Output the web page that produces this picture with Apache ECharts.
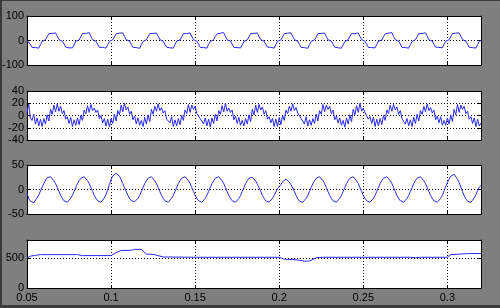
<!DOCTYPE html>
<html><head><meta charset="utf-8">
<script src="https://cdn.jsdelivr.net/npm/echarts@6/dist/echarts.min.js"></script>
<style>
html,body{margin:0;padding:0;background:#7f7f7f;}
#c{position:absolute;left:0;top:0;width:500px;height:308px;}
.b{position:absolute;background:#3a3a3a;pointer-events:none;}
</style></head><body>
<div id="c"></div>
<div class="b" style="left:0;top:0;width:2px;height:308px"></div>
<div class="b" style="left:0;top:0;width:500px;height:1px"></div>
<div class="b" style="left:0;top:305px;width:500px;height:3px"></div>
<script>
// time base for panels 1-3: samples every 1 ms starting at 0.05 s
const T0 = 0.05, DT = 0.001;
const xMin = 0.05, xMax = 0.32, xStep = 0.05;

// panel 1 : stepped voltage
const s1 = [
0,-1,-15,-28,-34,-29,-35,-31,-17,-4,
0,3,15,28,34,29,35,31,17,4,
0,-3,-14,-27,-35,-30,-36,-30,-18,-3,
0,2,16,28,35,29,34,32,16,4,
0,-3,-15,-28,-34,-28,-35,-31,-17,-4,
0,3,14,27,34,30,36,31,17,3,
0,-2,-16,-28,-35,-29,-35,-32,-16,-4,
0,3,15,28,35,29,35,30,18,4,
0,-3,-15,-27,-34,-30,-36,-31,-17,-3,
0,2,15,28,34,28,35,31,17,4,
0,-3,-14,-28,-35,-29,-35,-31,-16,-4,
0,3,16,27,35,30,36,32,17,3,
0,-2,-15,-28,-34,-29,-35,-30,-18,-4,
0,3,15,28,34,29,35,31,16,4,
0,-3,-16,-27,-35,-28,-36,-31,-17,-3,
0,2,15,28,35,30,34,31,17,4,
0,-3,-15,-28,-34,-29,-35,-32,-17,-4,
0,3,14,28,34,29,36,30,16,3,
0,-2,-15,-27,-35,-30,-35,-31,-18,-4,
0,3,16,28,35,28,35,31,17,4,
0,-3,-15,-28,-34,-29,-36,-30,-17,-3,
0,2,15,27,34,30,35,32,16,4,
0,-3,-14,-28,-35,-29,-35,-31,-17,-4,
0,3,15,28,35,29,36,31,18,3,
0,-2,-16,-27,-34,-28,-35,-30,-16,-4,
0,3,15,28,34,30,35,31,17,4,
0,-3,-15,-28,-35,-29,-36,-31,-17,-3,
0
];

// panel 2 : noisy current
const s2 = [
4,19,-4,-8,2,-14,-4,-17,-6,-18,-5,-14,1,-9,10,2,17,6,19,7,
15,3,8,-6,-2,-13,-3,-18,-7,-16,-4,-15,0,-8,9,3,16,5,18,8,
12,5,9,-5,0,-12,-5,-17,-6,-19,-5,-13,2,-9,8,1,17,6,20,9,
14,2,7,-7,-1,-14,-4,-16,-8,-18,-3,-14,1,-10,10,2,15,7,19,8,
13,4,8,-6,-3,-12,-2,-18,-7,-17,-5,-15,0,-8,9,3,18,5,17,10,
15,3,6,-5,-2,-14,-4,-17,-6,-19,-4,-13,2,-9,8,2,16,6,20,7,
12,5,9,-7,-1,-13,-3,-16,-8,-17,-5,-14,1,-10,10,1,17,5,18,9,
14,2,8,-6,-2,-12,-5,-18,-6,-18,-3,-15,0,-8,9,3,15,7,19,8,
13,4,7,-5,-3,-14,-2,-17,-7,-16,-5,-13,2,-9,8,2,18,6,17,10,
15,3,9,-7,-1,-12,-4,-16,-8,-19,-4,-14,1,-10,10,1,16,5,20,7,
12,5,6,-6,-2,-13,-3,-18,-6,-17,-5,-15,0,-8,9,3,17,7,18,9,
14,2,8,-5,-3,-14,-5,-17,-7,-18,-3,-13,2,-9,8,2,15,6,19,8,
13,4,9,-7,-1,-12,-2,-16,-8,-16,-4,-14,1,-10,10,1,18,5,17,10,
15,3,7,-6,-2,-13,-4,-18,-6,-17,-12
];

// panel 3 : sinusoidal current
const s3 = [
-8,-18,-24,-27,-27,-23,-17,-11,-3,5,12,19,24,26,26,23,18,12,4,-4,
-12,-18,-23,-26,-26,-23,-18,-12,-4,4,12,18,23,26,26,23,18,12,4,-4,
-12,-18,-23,-26,-26,-23,-17,-10,0,10,20,28,32,33,31,27,20,12,4,-4,
-12,-18,-23,-25,-25,-23,-18,-12,-4,4,12,18,23,26,26,23,18,12,4,-4,
-12,-18,-23,-26,-26,-23,-18,-12,-4,4,12,18,23,26,26,23,18,12,4,-4,
-12,-18,-23,-26,-26,-23,-18,-12,-4,4,12,18,23,26,26,23,18,12,4,-4,
-12,-18,-23,-26,-26,-23,-18,-12,-4,4,12,18,23,25,25,22,17,11,4,-4,
-12,-18,-23,-26,-26,-23,-18,-12,-5,2,6,10,16,20,21,19,15,10,3,-4,
-12,-19,-24,-26,-26,-23,-18,-12,-4,4,12,18,23,26,26,23,18,12,4,-4,
-12,-18,-23,-26,-26,-23,-18,-12,-4,4,12,18,23,26,26,23,18,12,4,-4,
-12,-18,-23,-26,-26,-23,-18,-12,-4,4,12,18,23,26,26,23,18,12,4,-4,
-12,-18,-23,-26,-26,-23,-18,-12,-4,4,12,18,23,26,26,23,18,12,4,-4,
-12,-18,-23,-26,-26,-23,-18,-12,-3,6,14,21,27,30,31,27,21,14,5,-4,
-13,-19,-24,-26,-26,-23,-17,-10,-2,5,8
];

// panel 4 : DC voltage (time, value) breakpoints
const t4 = [0.050,0.052,0.055,0.058,0.080,0.083,0.100,0.103,0.106,0.112,0.114,0.118,0.121,0.125,0.128,0.131,0.150,0.200,0.203,0.210,0.215,0.218,0.222,0.226,0.278,0.281,0.284,0.300,0.302,0.312,0.320];
const v4 = [500,530,545,556,556,540,540,590,625,628,644,644,566,560,540,517,512,512,480,470,448,450,505,512,512,505,512,512,556,573,575];

// y axis ranges: [min, max, interval]
const yRanges = [[-100,100,100],[-40,40,20],[-50,50,50],[0,800,500]];

const tops = [16,91,165,240];
const heights = [49,49,49,48];
const BLUE = '#2a2af0';
const FONT = {fontFamily:'Liberation Sans, Arial, sans-serif', fontSize:11, color:'#000'};

const grid=[], xAxis=[], yAxis=[], series=[];
const panels=[s1,s2,s3];
for(let i=0;i<4;i++){
  grid.push({left:27,width:454,top:tops[i],height:heights[i],show:true,backgroundColor:'#fff',borderWidth:0,containLabel:false,outerBoundsMode:'none'});
  const base={gridIndex:i,type:'value',min:xMin,max:xMax,interval:xStep,
    axisLine:{show:true,onZero:false,lineStyle:{color:'#000',width:1}},
    axisTick:{show:true,inside:true,length:3,lineStyle:{color:'#000'}}};
  xAxis.push(Object.assign({},base,{position:'bottom',
    axisLabel:{show:i===3,margin:4,showMaxLabel:false,...FONT},
    splitLine:{show:true,lineStyle:{color:'#000',type:[1,2],width:1}}}));
  xAxis.push(Object.assign({},base,{position:'top',axisLabel:{show:false},splitLine:{show:false}}));
  const [mn,mx,iv]=yRanges[i];
  const yb={gridIndex:i,type:'value',min:mn,max:mx,interval:iv,
    axisLine:{show:true,onZero:false,lineStyle:{color:'#000',width:1}},
    axisTick:{show:true,inside:true,length:3,lineStyle:{color:'#000'}}};
  yAxis.push(Object.assign({},yb,{position:'left',
    axisLabel:{show:true,margin:3,showMaxLabel:i!==3,...FONT},
    splitLine:{show:true,lineStyle:{color:'#000',type:[1,2],width:1}}}));
  yAxis.push(Object.assign({},yb,{position:'right',axisLabel:{show:false},splitLine:{show:false}}));
  let data;
  if(i<3){ data=panels[i].map((v,k)=>[+(T0+k*DT).toFixed(3),v]); }
  else { data=t4.map((t,k)=>[t,v4[k]]); }
  series.push({type:'line',xAxisIndex:2*i,yAxisIndex:2*i,data,showSymbol:false,symbol:'none',
    lineStyle:{color:BLUE,width:1},animation:false,silent:true,z:3});
}

const chart=echarts.init(document.getElementById('c'),null,{renderer:'canvas'});
chart.setOption({backgroundColor:'#7f7f7f',animation:false,grid,xAxis,yAxis,series});
</script>
</body></html>
